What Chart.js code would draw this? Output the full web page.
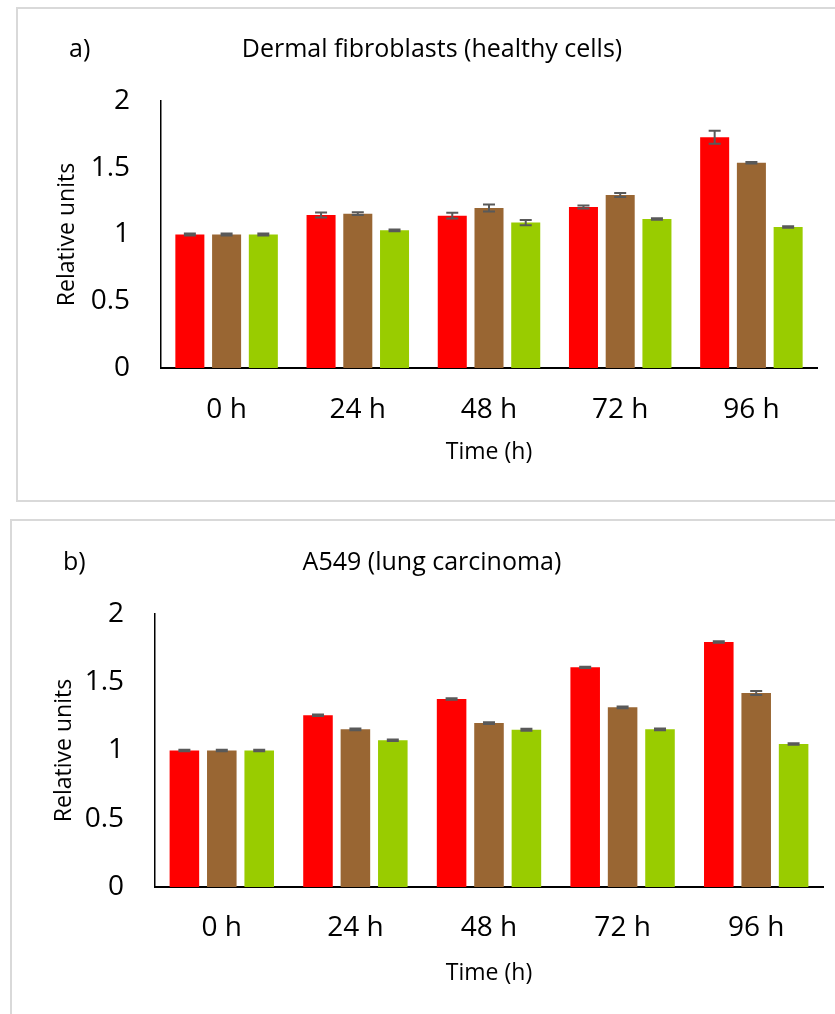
<!DOCTYPE html>
<html>
<head>
<meta charset="utf-8">
<script src="https://cdn.jsdelivr.net/npm/chart.js@4"></script>
<style>
  html, body { margin: 0; padding: 0; background: #fff; overflow: hidden; width: 835px; height: 1014px; }
  .box { position: absolute; border: 2px solid #d9d9d9; background: #fff; }
  #boxA { left: 16px; top: 7px; width: 830px; height: 491px; }
  #boxB { left: 10px; top: 519px; width: 830px; height: 500px; }
  canvas { display: block; }
</style>
</head>
<body>
<div class="box" id="boxA"><canvas id="chartA" width="830" height="491"></canvas></div>
<div class="box" id="boxB"><canvas id="chartB" width="830" height="493"></canvas></div>
<script>
// categorias e valores
const tempos = ['0 h', '24 h', '48 h', '72 h', '96 h'];
const yTicks = [0, 0.5, 1, 1.5, 2];

// a) Dermal fibroblasts
const fibroVermelho = [1.0, 1.146, 1.141, 1.206, 1.728];
const fibroMarrom   = [1.0, 1.156, 1.199, 1.296, 1.538];
const fibroVerde    = [1.0, 1.031, 1.089, 1.116, 1.056];
const fibroErroVermelho = [0.008, 0.019, 0.022, 0.012, 0.049];
const fibroErroMarrom   = [0.008, 0.010, 0.026, 0.015, 0.006];
const fibroErroVerde    = [0.008, 0.006, 0.020, 0.006, 0.005];

// b) A549
const a549Vermelho = [1.0, 1.258, 1.377, 1.609, 1.795];
const a549Marrom   = [1.0, 1.155, 1.201, 1.316, 1.421];
const a549Verde    = [1.0, 1.075, 1.152, 1.155, 1.048];
const a549ErroVermelho = [0.005, 0.006, 0.005, 0.005, 0.006];
const a549ErroMarrom   = [0.005, 0.006, 0.006, 0.006, 0.014];
const a549ErroVerde    = [0.005, 0.005, 0.007, 0.007, 0.006];

const cores = ['#ff0000', '#996633', '#99cc00'];
const fonte = '"Open Sans"';

// barras de erro desenhadas pelas escalas do Chart.js
const errorBars = {
    id: 'errorBars',
    afterDatasetsDraw(chart, args, opts) {
        const ctx = chart.ctx;
        const y = chart.scales.y;
        ctx.save();
        ctx.strokeStyle = '#595959';
        ctx.lineWidth = 2;
        chart.data.datasets.forEach((ds, i) => {
            const meta = chart.getDatasetMeta(i);
            meta.data.forEach((bar, j) => {
                const v = ds.data[j], e = ds.erros[j];
                const yHi = y.getPixelForValue(v + e);
                const yLo = y.getPixelForValue(v - e);
                ctx.beginPath();
                ctx.moveTo(bar.x, yHi); ctx.lineTo(bar.x, yLo);
                ctx.moveTo(bar.x - 6, yHi); ctx.lineTo(bar.x + 6, yHi);
                ctx.moveTo(bar.x - 6, yLo); ctx.lineTo(bar.x + 6, yLo);
                ctx.stroke();
            });
        });
        ctx.restore();
    }
};

// título e letra do painel
const panelText = {
    id: 'panelText',
    afterDraw(chart, args, opts) {
        const ctx = chart.ctx;
        ctx.save();
        ctx.fillStyle = '#000';
        ctx.textBaseline = 'middle';
        ctx.font = '25px ' + fonte;
        ctx.textAlign = 'left';
        ctx.fillText(opts.letra, opts.letraX, opts.y);
        ctx.textAlign = 'center';
        ctx.fillText(opts.titulo, opts.tituloX, opts.y);
        ctx.restore();
    }
};

function criarGrafico(id, series, erros, g) {
    const datasets = series.map((s, i) => ({
        data: s,
        erros: erros[i],
        backgroundColor: cores[i],
        categoryPercentage: 0.84,
        barPercentage: 0.79
    }));
    return new Chart(document.getElementById(id), {
        type: 'bar',
        data: { labels: tempos, datasets: datasets },
        plugins: [errorBars, panelText],
        options: {
            responsive: false,
            animation: false,
            layout: { padding: { top: g.top, right: g.right, left: 0, bottom: 0 } },
            plugins: {
                legend: { display: false },
                tooltip: { enabled: false },
                panelText: g.texto
            },
            scales: {
                x: {
                    grid: { display: false, drawTicks: false },
                    border: { color: '#000', width: 2 },
                    ticks: { color: '#000', font: { family: fonte, size: 28 }, padding: g.xPad },
                    title: { display: true, text: 'Time (h)', color: '#000', font: { family: fonte, size: 23 }, padding: { top: 0, bottom: g.xTitlePad } },
                    afterFit(scale) { scale.height = g.xHeight; }
                },
                y: {
                    min: 0, max: 2,
                    afterBuildTicks(scale) { scale.ticks = yTicks.map(v => ({ value: v })); },
                    grid: { display: false, drawTicks: false },
                    border: { color: '#000', width: 1.5 },
                    ticks: { color: '#000', font: { family: fonte, size: 28 }, padding: 31, callback: v => String(v) },
                    title: { display: true, text: 'Relative units', color: '#000', font: { family: fonte, size: 23 }, padding: { top: g.yTitlePad, bottom: 0 } },
                    afterFit(scale) { scale.width = 143; }
                }
            }
        }
    });
}

criarGrafico('chartA', [fibroVermelho, fibroMarrom, fibroVerde],
    [fibroErroVermelho, fibroErroMarrom, fibroErroVerde],
    { top: 92, right: 31, xHeight: 132, xPad: 25, xTitlePad: 34, yTitlePad: 36,
      texto: { letra: 'a)', letraX: 51, titulo: 'Dermal fibroblasts (healthy cells)', tituloX: 414, y: 41 } });

criarGrafico('chartB', [a549Vermelho, a549Marrom, a549Verde],
    [a549ErroVermelho, a549ErroMarrom, a549ErroVerde],
    { top: 93, right: 19, xHeight: 127, xPad: 24, xTitlePad: 27, yTitlePad: 39,
      texto: { letra: 'b)', letraX: 51, titulo: 'A549 (lung carcinoma)', tituloX: 420, y: 42 } });
</script>
</body>
</html>
